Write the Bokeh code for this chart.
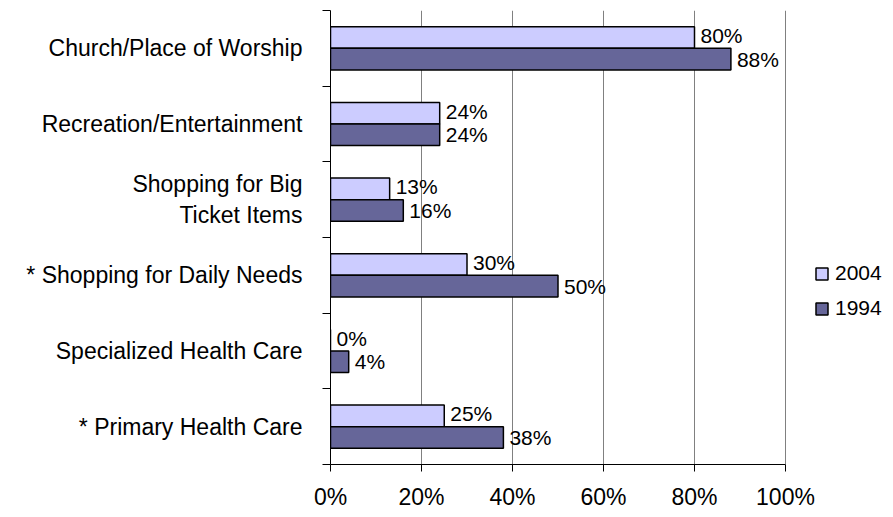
from bokeh.plotting import figure
from bokeh.models import (Range1d, FixedTicker, ColumnDataSource, Legend, LegendItem,
                          NumeralTickFormatter)
from bokeh.core.properties import value
from bokeh.embed import file_html
from bokeh.resources import INLINE

# ---- data (top to bottom) ----
categories = [
    "Church/Place of Worship",
    "Recreation/Entertainment",
    "Shopping for Big\nTicket Items",
    "* Shopping for Daily Needs",
    "Specialized Health Care",
    "* Primary Health Care",
]
values_2004 = [80, 24, 13, 30, 0, 25]
values_1994 = [88, 24, 16, 50, 4, 38]
series_names = ["2004", "1994"]
x_ticks = [0, 20, 40, 60, 80, 100]

FONT = "Liberation Sans"
n = len(categories)
centers = [n - 0.5 - i for i in range(n)]
bar_h = 0.285
off = bar_h / 2

src = ColumnDataSource(dict(
    y04=[c + off for c in centers],
    y94=[c - off for c in centers],
    v04=[v / 100 for v in values_2004],
    v94=[v / 100 for v in values_1994],
    l04=[f"{v}%" for v in values_2004],
    l94=[f"{v}%" for v in values_1994],
))

W, H = 885, 512
LEFT, TOP, BOTTOM_PX, RIGHT_PX = 330, 10, 468, 785
MBR = 0
frame_w = W - LEFT - MBR
x_end = frame_w / (RIGHT_PX - LEFT)   # axis value 1.0 (100%) lands at RIGHT_PX

p = figure(width=W, height=H, output_backend="svg", toolbar_location=None,
           x_range=Range1d(0, x_end), y_range=Range1d(0, n),
           min_border_left=LEFT, min_border_right=MBR, min_border_top=TOP,
           min_border_bottom=H - BOTTOM_PX)
p.outline_line_color = None
p.background_fill_color = "white"
p.border_fill_color = "white"

r04 = p.hbar(y="y04", left=0, right="v04", height=bar_h, source=src,
             fill_color="#CCCCFF", line_color="black", line_width=1.5)
r94 = p.hbar(y="y94", left=0, right="v94", height=bar_h, source=src,
             fill_color="#666699", line_color="black", line_width=1.5)

p.text(x="v04", y="y04", text="l04", source=src, x_offset=6, y_offset=-2,
       text_font=value(FONT), text_font_size="21px", text_baseline="middle",
       text_align="left", text_color="black")
p.text(x="v94", y="y94", text="l94", source=src, x_offset=6,
       text_font=value(FONT), text_font_size="21px", text_baseline="middle",
       text_align="left", text_color="black")

# x axis
p.xaxis.bounds = (0, 1)
p.xaxis.ticker = FixedTicker(ticks=[t / 100 for t in x_ticks])
p.xaxis.formatter = NumeralTickFormatter(format="0%")
p.xaxis.axis_line_color = "black"
p.xaxis.major_tick_line_color = "black"
p.xaxis.major_tick_out = 7
p.xaxis.major_tick_in = 0
p.xaxis.minor_tick_line_color = None
p.xaxis.major_label_text_font = FONT
p.xaxis.major_label_text_font_size = "23px"
p.xaxis.major_label_text_color = "black"
p.xaxis.major_label_standoff = 12

# y axis
p.yaxis.ticker = FixedTicker(ticks=centers, minor_ticks=list(range(n + 1)))
p.yaxis.major_label_overrides = {c: lab for c, lab in zip(centers, categories)}
p.yaxis.axis_line_color = "black"
p.yaxis.major_tick_line_color = None
p.yaxis.major_tick_out = 0
p.yaxis.major_tick_in = 0
p.yaxis.minor_tick_line_color = "black"
p.yaxis.minor_tick_out = 8
p.yaxis.minor_tick_in = 0
p.yaxis.major_label_text_font = FONT
p.yaxis.major_label_text_font_size = "23px"
p.yaxis.major_label_text_color = "black"
p.yaxis.major_label_standoff = 20

p.xgrid.ticker = FixedTicker(ticks=[t / 100 for t in x_ticks[1:]])
p.xgrid.grid_line_color = "#808080"
p.xgrid.grid_line_width = 1
p.ygrid.grid_line_color = None

legend = Legend(items=[LegendItem(label=series_names[0], renderers=[r04]),
                       LegendItem(label=series_names[1], renderers=[r94])],
                location=(RIGHT_PX - LEFT + 29, 144), orientation="vertical",
                glyph_width=15, glyph_height=15, label_standoff=6, spacing=11,
                padding=0, margin=0, border_line_color=None,
                background_fill_alpha=0,
                label_text_font=FONT, label_text_font_size="21px",
                label_text_color="black")
p.add_layout(legend)

open("out.html", "w").write(file_html(p, INLINE))
